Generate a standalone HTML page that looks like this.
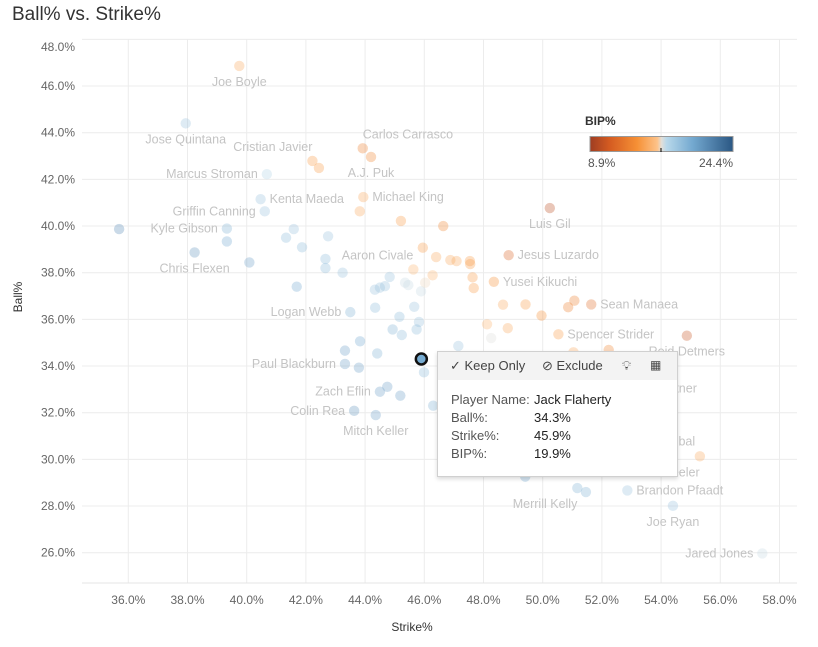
<!DOCTYPE html>
<html><head><meta charset="utf-8">
<style>
body{margin:0;background:#fff;width:818px;height:647px;overflow:hidden;font-family:"Liberation Sans",sans-serif;}
#wrap{position:relative;width:818px;height:647px;}
#title{position:absolute;left:12px;top:4px;font-size:19px;color:#333;}
#tip{position:absolute;left:437px;top:351px;width:239px;height:124px;background:#fff;border:1px solid #d0d0d0;box-shadow:0 2px 4px rgba(0,0,0,0.15);font-size:13px;color:#555;}
#tiphead{height:28px;background:#f3f3f3;position:relative;color:#444;}
#tiphead span{position:absolute;top:6px;white-space:nowrap;}
.row{position:absolute;left:13px;width:220px;white-space:nowrap;}
.val{position:absolute;left:83px;color:#222;white-space:nowrap;}
</style></head>
<body>
<div id="wrap">
<div id="title">Ball% vs. Strike%</div>
<svg id="chart" width="818" height="647" style="position:absolute;left:0;top:0"></svg>
<div id="tip">
 <div id="tiphead">
  <span style="left:12px">✓ Keep Only</span>
  <span style="left:104px">⊘ Exclude</span>
  <span style="left:184px">💡︎</span>
  <span style="left:212px;font-size:12px;letter-spacing:-1px">▦</span>
 </div>
 <div class="row" style="top:40px">Player Name:<span class="val">Jack Flaherty</span></div>
 <div class="row" style="top:58px">Ball%:<span class="val">34.3%</span></div>
 <div class="row" style="top:76px">Strike%:<span class="val">45.9%</span></div>
 <div class="row" style="top:94px">BIP%:<span class="val">19.9%</span></div>
</div>
</div>
<script>
const strike=[39.75,37.94,42.22,42.44,43.92,44.20,40.68,40.47,40.61,43.94,43.82,45.21,46.64,35.69,39.33,39.33,41.59,41.33,41.87,42.75,38.24,40.09,42.66,42.66,43.24,45.95,46.40,46.88,47.09,45.63,46.28,46.03,45.89,44.83,45.35,45.46,44.33,44.50,44.67,41.69,43.50,44.34,45.66,45.16,45.82,44.93,45.74,50.24,47.54,47.55,48.85,47.63,47.67,48.35,48.66,49.42,49.96,50.86,51.07,51.64,48.12,48.82,48.26,50.53,54.87,52.23,51.04,47.15,45.24,43.83,43.32,44.41,43.32,43.79,45.99,44.50,44.75,45.19,43.63,44.36,46.30,49.41,51.17,51.46,52.86,54.40,57.42,55.31,54.0,54.0,54.0];
const ball=[46.86,44.40,42.79,42.49,43.33,42.96,42.22,41.15,40.63,41.24,40.63,40.22,40.00,39.87,39.89,39.34,39.87,39.50,39.09,39.56,38.87,38.44,38.59,38.20,38.00,39.07,38.67,38.54,38.50,38.14,37.89,37.57,37.20,37.82,37.57,37.47,37.27,37.36,37.42,37.40,36.31,36.50,36.54,36.11,35.89,35.57,35.57,40.77,38.50,38.37,38.75,37.80,37.34,37.61,36.63,36.64,36.16,36.52,36.80,36.64,35.79,35.62,35.20,35.36,35.30,34.69,34.59,34.86,35.33,35.06,34.66,34.54,34.09,33.93,33.73,32.90,33.11,32.73,32.08,31.90,32.30,29.26,28.77,28.60,28.67,28.01,25.97,30.13,33.73,31.45,30.13];
const bip=[15,18.5,14.5,14.5,13,13.5,17.5,18.5,18.5,15,15,14.5,13.5,21.5,19.5,20,18.5,19,19,18.5,21,20.5,19,19,18.5,14.5,15,15,15,15.5,15.5,16.5,17,18.5,17,17,18.5,18.5,18.5,20,19.5,19,18.5,19,18.5,19.5,19,10,14.5,14.5,11.5,14.5,14.5,14,15,14.5,14,13,13,12,15.5,15,16.7,14.5,10.5,13.5,15,18.5,19,20,20.5,19.5,20.5,20.5,19,20.5,20.5,20.5,21,20.5,19.5,20,19.5,19.5,18.5,18.5,17,15,15,15,15];
const names=["Joe Boyle","Jose Quintana","Cristian Javier","","Carlos Carrasco","A.J. Puk","Marcus Stroman","Kenta Maeda","Griffin Canning","Michael King","","","","","Kyle Gibson","","","","","","Chris Flexen","","","","","","","","","Aaron Civale","","","","","","","","","","","Logan Webb","","","","","","","Luis Gil","","","Jesus Luzardo","","","Yusei Kikuchi","","","","","","Sean Manaea","","","","Spencer Strider","Reid Detmers","","","","","","","","Paul Blackburn","","","Zach Eflin","","","Colin Rea","Mitch Keller","","","Merrill Kelly","","Brandon Pfaadt","Joe Ryan","Jared Jones","","Ryan Feltner","Tarik Skubal","Zack Wheeler"];
const labelSide=["b","b","tl","","tr","b","l","r","l","r","","","","","l","","","","","","b","","","","","","","","","tl","","","","","","","","","","","l","","","","","","","b","","","r","","","r","","","","","","r","","","","r","b","","","","","","","","l","","","l","","","l","b","","","bl","","r","b","l","","b","b","b"];
const selStrike=45.9, selBall=34.3, selBip=19.9;
const xTicks=[36,38,40,42,44,46,48,50,52,54,56,58];
const yTicks=[26,28,30,32,34,36,38,40,42,44,46,48];
const bipMin=8.9, bipMax=24.4;

const NS="http://www.w3.org/2000/svg";
const svg=document.getElementById('chart');
const L=82,R=797,T=39.3,B=583;
function xs(v){return 128.3+(v-36)*29.6;}
function ys(v){return 132.7-(v-44)*23.333;}
const stops=[[8.9,[158,61,34]],[11,[212,91,33]],[14,[246,144,53]],[16.2,[253,195,138]],[16.65,[226,223,217]],[17.2,[184,216,234]],[20,[116,169,208]],[24.4,[42,87,131]]];
function col(v){
  if(v<=stops[0][0])return 'rgb('+stops[0][1]+')';
  for(let i=1;i<stops.length;i++){
    if(v<=stops[i][0]){const a=stops[i-1],b=stops[i],t=(v-a[0])/(b[0]-a[0]);
      return 'rgb('+a[1].map((c,k)=>Math.round(c+(b[1][k]-c)*t)).join(',')+')';}
  }
  return 'rgb('+stops[stops.length-1][1]+')';
}
function mk(tag,attrs,parent){const e=document.createElementNS(NS,tag);for(const k in attrs)e.setAttribute(k,attrs[k]);(parent||svg).appendChild(e);return e;}

xTicks.forEach(t=>{
  const g=mk('line',{x1:xs(t),x2:xs(t),y1:T,y2:B,stroke:'#ececec','stroke-width':1});
  
  
  const tx=mk('text',{x:xs(t),y:604,'text-anchor':'middle','font-size':12,fill:'#666'});
  tx.textContent=t.toFixed(1)+'%';
  
  
});
yTicks.forEach(t=>{
  const g=mk('line',{x1:L,x2:R,y1:ys(t),y2:ys(t),stroke:'#ececec','stroke-width':1});
  
  
  const yy=Math.max(ys(t),47);
  const tx=mk('text',{x:75,y:yy+4,'text-anchor':'end','font-size':12,fill:'#666'});
  tx.textContent=t.toFixed(1)+'%';
  
  
});
const ax=mk('line',{x1:L,x2:R,y1:B,y2:B,stroke:'#e4e4e4'});


const xt=mk('text',{x:412,y:631,'text-anchor':'middle','font-size':12,fill:'#333'});
xt.textContent='Strike%';


const yt=mk('text',{x:0,y:0,'text-anchor':'middle','font-size':12,fill:'#333',transform:'translate(22,297) rotate(-90)'});
yt.textContent='Ball%';



strike.forEach((s,i)=>{
  if(!names[i])return;
  const px=xs(s),py=ys(ball[i]);let x=px,y=py,a='middle';
  const sd=labelSide[i];
  if(sd==='b'){y=py+20;}
  else if(sd==='r'){x=px+9;y=py+4;a='start';}
  else if(sd==='l'){x=px-9;y=py+4;a='end';}
  else if(sd==='tl'){y=py-10;a='end';}
  else if(sd==='tr'){y=py-10;a='start';}
  else if(sd==='bl'){y=py+20;a='end';}
  const t=mk('text',{x:x,y:y,'text-anchor':a,'font-size':12.5,fill:'#c4c4c4'});
  t.textContent=names[i];
  
  
});
strike.forEach((s,i)=>{
  const c=mk('circle',{cx:xs(s),cy:ys(ball[i]),r:5.2,fill:col(bip[i]),'fill-opacity':0.32});
  
  
});
const sel=mk('circle',{cx:xs(selStrike),cy:ys(selBall),r:5.5,fill:col(selBip),stroke:'#111','stroke-width':2.5});



const defs=mk('defs',{});
const lg=mk('linearGradient',{id:'lg',x1:0,x2:1,y1:0,y2:0},defs);
stops.forEach(s=>{mk('stop',{offset:(s[0]-bipMin)/(bipMax-bipMin),'stop-color':'rgb('+s[1]+')'},lg);});
const lt=mk('text',{x:585,y:125,'font-size':12,'font-weight':'bold',fill:'#333'});
lt.textContent='BIP%';


const lb=mk('rect',{x:590,y:136.5,width:143,height:15,fill:'url(#lg)',stroke:'#999','stroke-width':1});


const tk=mk('line',{x1:661,x2:661,y1:148,y2:152,stroke:'#000'});


const l1=mk('text',{x:588,y:167,'font-size':12,fill:'#555'});
l1.textContent=bipMin.toFixed(1)+'%';


const l2=mk('text',{x:733,y:167,'font-size':12,fill:'#555','text-anchor':'end'});
l2.textContent=bipMax.toFixed(1)+'%';


</script>
</body></html>
